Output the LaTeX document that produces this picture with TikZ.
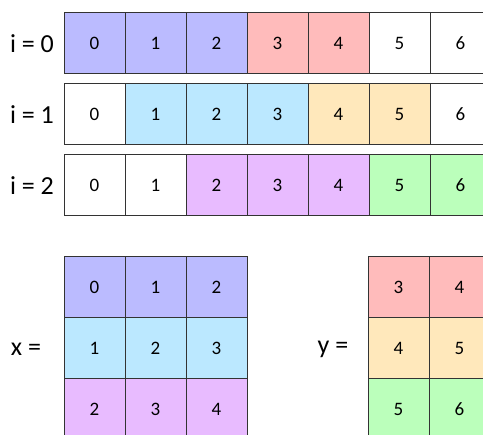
\documentclass[tikz,border=0pt]{standalone}
\usepackage{fontspec}
\setmainfont{Carlito}
\usepackage{xcolor}
\usepackage{tikz}
\definecolor{cblue}{RGB}{187,187,255}
\definecolor{cpink}{RGB}{255,187,187}
\definecolor{ccyan}{RGB}{187,232,255}
\definecolor{corange}{RGB}{255,232,187}
\definecolor{cpurple}{RGB}{232,187,255}
\definecolor{cgreen}{RGB}{187,255,187}
\tikzset{
  cell/.style={draw=black!80, line width=1pt, minimum width=61pt, minimum height=61pt,
    inner sep=0pt, font=\fontsize{19}{22}\selectfont},
  lbl/.style={inner sep=0pt, font=\fontsize{26}{30}\selectfont}
}

\begin{document}
\begin{tikzpicture}[x=1pt, y=-1pt]
  \useasboundingbox (0,0) rectangle (483,435);
  \clip (0,0) rectangle (483,435);
  % sliding windows
  \foreach \r/\y/\cols in {0/43.5/{cblue,cblue,cblue,cpink,cpink,white,white},
                           1/114.5/{white,ccyan,ccyan,ccyan,corange,corange,white},
                           2/185.5/{white,white,cpurple,cpurple,cpurple,cgreen,cgreen}} {
    \foreach \c [count=\k from 0] in \cols
      \node[cell, fill=\c] (r\r c\k) at (94.5+61*\k,\y) {\k};
    \node[lbl] (i\r) at (32,\y) {i = \r};
  }
  % x and y
  \foreach \c [count=\i from 0] in {cblue,ccyan,cpurple} {
    \foreach \j in {0,1,2} {
      \pgfmathtruncatemacro{\v}{\i+\j}
      \node[cell, fill=\c] (x\i\j) at (94.5+61*\j,287.5+61*\i) {\v};
    }
  }
  \foreach \c [count=\i from 0] in {cpink,corange,cgreen} {
    \foreach \j in {0,1} {
      \pgfmathtruncatemacro{\v}{3+\i+\j}
      \node[cell, fill=\c] (y\i\j) at (398.5+61*\j,287.5+61*\i) {\v};
    }
  }
  \node[lbl] (xlbl) at (26,349) {x =};
  \node[lbl] (ylbl) at (333,349) {y =};
\end{tikzpicture}
\end{document}
